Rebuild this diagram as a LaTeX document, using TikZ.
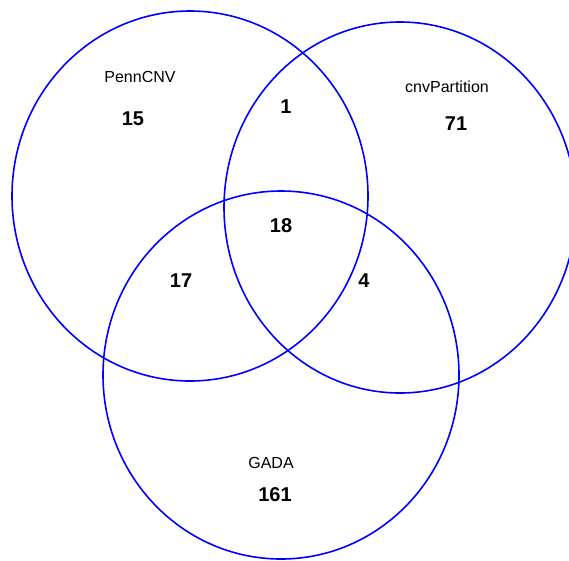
\documentclass[tikz,border=0pt]{standalone}
\usepackage{fontspec}
\setmainfont{Liberation Sans}
\begin{document}
\begin{tikzpicture}[x=1pt,y=-1pt,
  setline/.style={draw={rgb,255:red,0;green,0;blue,255}, line width=1.6pt},
  setname/.style={font=\fontsize{16}{18}\selectfont, inner sep=0pt},
  count/.style={font=\fontsize{20}{22}\selectfont\bfseries, inner sep=0pt}]
\useasboundingbox (0,0) rectangle (569,560);
\begin{scope}
\clip (0,0) rectangle (569,560);
\draw[setline] (190,196) ellipse [x radius=178pt, y radius=185pt];
\draw[setline] (400,207.5) ellipse [x radius=176pt, y radius=185.5pt];
\draw[setline] (281,375) ellipse [x radius=178pt, y radius=184pt];
\end{scope}
\node[setname] (penn) at (140,77) {PennCNV};
\node[setname] (cnvp) at (447,87) {cnvPartition};
\node[setname] (gada) at (271,463) {GADA};
\node[count] (n15) at (133,119) {15};
\node[count] (n1) at (286,107) {1};
\node[count] (n71) at (456,124) {71};
\node[count] (n18) at (281,226) {18};
\node[count] (n17) at (181,281) {17};
\node[count] (n4) at (364,281) {4};
\node[count] (n161) at (275,495) {161};
\end{tikzpicture}
\end{document}
